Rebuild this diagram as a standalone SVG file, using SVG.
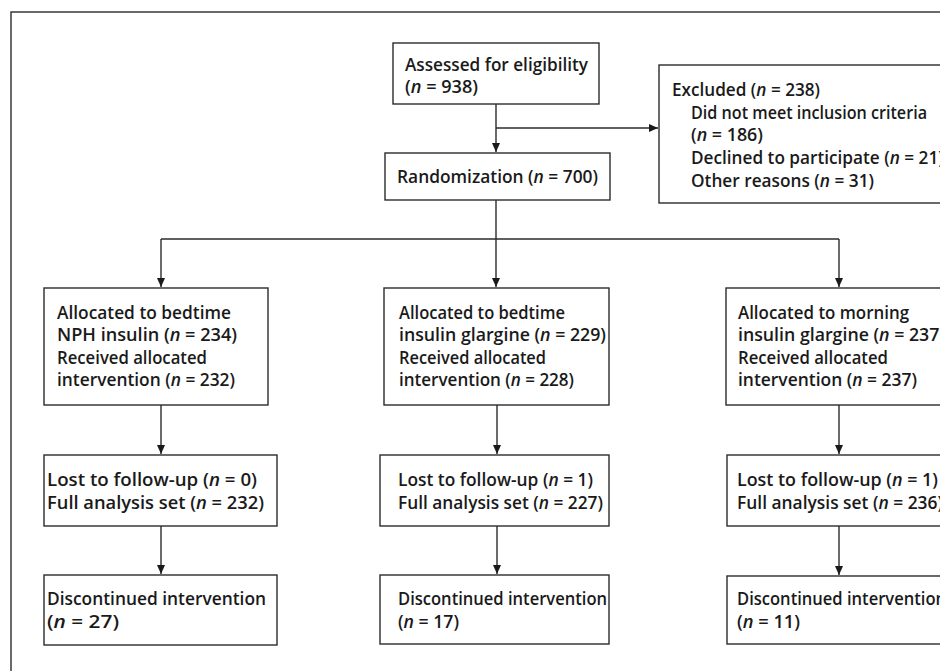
<svg xmlns="http://www.w3.org/2000/svg" width="940" height="671" viewBox="0 0 940 671">
<style>
.box{fill:#fff;stroke:#2b2b2b;stroke-width:1.4}
.frame{fill:none;stroke:#2b2b2b;stroke-width:1.4}
.ln{fill:none;stroke:#2b2b2b;stroke-width:1.4}
text{font-family:"Open Sans","Liberation Sans",sans-serif;font-size:17.2px;font-weight:600;fill:#1a1a1a}
.i{font-style:italic}
</style>
<defs>
<marker id="ah" markerWidth="10" markerHeight="10" refX="9" refY="5" orient="auto" markerUnits="userSpaceOnUse">
<path d="M0,1 L9,5 L0,9 Z" fill="#1a1a1a"/>
</marker>
</defs>
<rect width="940" height="671" fill="#fff"/>
<rect class="frame" x="11" y="12" width="960" height="700"/>
<g id="connectors">
<line class="ln" x1="496" y1="104" x2="496" y2="152" marker-end="url(#ah)"/>
<line class="ln" x1="496" y1="128" x2="658" y2="128" marker-end="url(#ah)"/>
<line class="ln" x1="496" y1="200" x2="496" y2="239"/>
<line class="ln" x1="161" y1="239" x2="839" y2="239"/>
<line class="ln" x1="161" y1="239" x2="161" y2="287" marker-end="url(#ah)"/>
<line class="ln" x1="496" y1="239" x2="496" y2="287" marker-end="url(#ah)"/>
<line class="ln" x1="839" y1="239" x2="839" y2="287" marker-end="url(#ah)"/>
<line class="ln" x1="161" y1="405" x2="161" y2="454" marker-end="url(#ah)"/>
<line class="ln" x1="497" y1="405" x2="497" y2="454" marker-end="url(#ah)"/>
<line class="ln" x1="839" y1="405" x2="839" y2="454" marker-end="url(#ah)"/>
<line class="ln" x1="161" y1="526" x2="161" y2="574" marker-end="url(#ah)"/>
<line class="ln" x1="497" y1="526" x2="497" y2="574" marker-end="url(#ah)"/>
<line class="ln" x1="839" y1="526" x2="839" y2="575" marker-end="url(#ah)"/>
</g>
<g id="assessed">
<rect class="box" x="393" y="43" width="206" height="61"/>
<text x="405" y="71" textLength="183" lengthAdjust="spacingAndGlyphs">Assessed for eligibility</text>
<text x="405" y="93" textLength="73" lengthAdjust="spacingAndGlyphs">(<tspan class="i">n</tspan> = 938)</text>
</g>
<g id="randomization">
<rect class="box" x="385" y="153" width="225" height="47"/>
<text x="397" y="183" textLength="201" lengthAdjust="spacingAndGlyphs">Randomization (<tspan class="i">n</tspan> = 700)</text>
</g>
<g id="excluded">
<rect class="box" x="659" y="65" width="300" height="138"/>
<text x="672" y="96" textLength="148" lengthAdjust="spacingAndGlyphs">Excluded (<tspan class="i">n</tspan> = 238)</text>
<text x="691" y="119" textLength="236" lengthAdjust="spacingAndGlyphs">Did not meet inclusion criteria</text>
<text x="691" y="141" textLength="72" lengthAdjust="spacingAndGlyphs">(<tspan class="i">n</tspan> = 186)</text>
<text x="691" y="164">Declined to participate (<tspan class="i">n</tspan> = 21)</text>
<text x="691" y="187" textLength="183" lengthAdjust="spacingAndGlyphs">Other reasons (<tspan class="i">n</tspan> = 31)</text>
</g>
<g id="alloc1">
<rect class="box" x="44" y="288" width="224" height="117"/>
<text x="57" y="319" textLength="174" lengthAdjust="spacingAndGlyphs">Allocated to bedtime</text>
<text x="57" y="341" textLength="180" lengthAdjust="spacingAndGlyphs">NPH insulin (<tspan class="i">n</tspan> = 234)</text>
<text x="57" y="364" textLength="150" lengthAdjust="spacingAndGlyphs">Received allocated</text>
<text x="57" y="386" textLength="178" lengthAdjust="spacingAndGlyphs">intervention (<tspan class="i">n</tspan> = 232)</text>
</g>
<g id="alloc2">
<rect class="box" x="384" y="288" width="225" height="117"/>
<text x="399" y="319" textLength="166" lengthAdjust="spacingAndGlyphs">Allocated to bedtime</text>
<text x="399" y="341" textLength="207" lengthAdjust="spacingAndGlyphs">insulin glargine (<tspan class="i">n</tspan> = 229)</text>
<text x="399" y="364" textLength="147" lengthAdjust="spacingAndGlyphs">Received allocated</text>
<text x="399" y="386" textLength="175" lengthAdjust="spacingAndGlyphs">intervention (<tspan class="i">n</tspan> = 228)</text>
</g>
<g id="alloc3">
<rect class="box" x="726" y="288" width="240" height="117"/>
<text x="738" y="319" textLength="171" lengthAdjust="spacingAndGlyphs">Allocated to morning</text>
<text x="738" y="341" textLength="207" lengthAdjust="spacingAndGlyphs">insulin glargine (<tspan class="i">n</tspan> = 237)</text>
<text x="738" y="364" textLength="150" lengthAdjust="spacingAndGlyphs">Received allocated</text>
<text x="738" y="386" textLength="179" lengthAdjust="spacingAndGlyphs">intervention (<tspan class="i">n</tspan> = 237)</text>
</g>
<g id="fu1">
<rect class="box" x="44" y="455" width="233" height="71"/>
<text x="47" y="486" textLength="210" lengthAdjust="spacingAndGlyphs">Lost to follow-up (<tspan class="i">n</tspan> = 0)</text>
<text x="47" y="509" textLength="217" lengthAdjust="spacingAndGlyphs">Full analysis set (<tspan class="i">n</tspan> = 232)</text>
</g>
<g id="fu2">
<rect class="box" x="380" y="455" width="229" height="71"/>
<text x="398" y="486" textLength="195" lengthAdjust="spacingAndGlyphs">Lost to follow-up (<tspan class="i">n</tspan> = 1)</text>
<text x="398" y="509" textLength="205" lengthAdjust="spacingAndGlyphs">Full analysis set (<tspan class="i">n</tspan> = 227)</text>
</g>
<g id="fu3">
<rect class="box" x="727" y="455" width="240" height="71"/>
<text x="737" y="486" textLength="201" lengthAdjust="spacingAndGlyphs">Lost to follow-up (<tspan class="i">n</tspan> = 1)</text>
<text x="737" y="509" textLength="206" lengthAdjust="spacingAndGlyphs">Full analysis set (<tspan class="i">n</tspan> = 236)</text>
</g>
<g id="disc1">
<rect class="box" x="44" y="575" width="233" height="70"/>
<text x="47" y="605" textLength="219" lengthAdjust="spacingAndGlyphs">Discontinued intervention</text>
<text x="47" y="628" textLength="72" lengthAdjust="spacingAndGlyphs">(<tspan class="i">n</tspan> = 27)</text>
</g>
<g id="disc2">
<rect class="box" x="380" y="575" width="229" height="69"/>
<text x="398" y="605" textLength="209" lengthAdjust="spacingAndGlyphs">Discontinued intervention</text>
<text x="398" y="628" textLength="61" lengthAdjust="spacingAndGlyphs">(<tspan class="i">n</tspan> = 17)</text>
</g>
<g id="disc3">
<rect class="box" x="727" y="576" width="240" height="68"/>
<text x="737" y="605" textLength="209" lengthAdjust="spacingAndGlyphs">Discontinued intervention</text>
<text x="737" y="628" textLength="63" lengthAdjust="spacingAndGlyphs">(<tspan class="i">n</tspan> = 11)</text>
</g>
</svg>
